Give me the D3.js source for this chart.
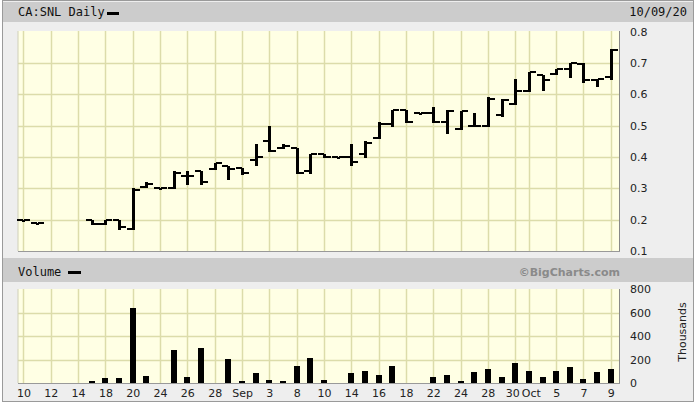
<!DOCTYPE html>
<html>
<head>
<meta charset="utf-8">
<script src="https://cdn.jsdelivr.net/npm/d3@7"></script>
<style>
html,body{margin:0;padding:0;background:#ffffff;}
svg{display:block;}
</style>
</head>
<body>
<svg id="chart" width="700" height="409"></svg>
<script>
// ---- data ----
const dates = ["Aug 10","Aug 11","Aug 12","Aug 13","Aug 14","Aug 17","Aug 18","Aug 19","Aug 20","Aug 21",
  "Aug 24","Aug 25","Aug 26","Aug 27","Aug 28","Aug 31","Sep 1","Sep 2","Sep 3","Sep 4",
  "Sep 8","Sep 9","Sep 10","Sep 11","Sep 14","Sep 15","Sep 16","Sep 17","Sep 18","Sep 21",
  "Sep 22","Sep 23","Sep 24","Sep 25","Sep 28","Sep 29","Sep 30","Oct 1","Oct 2","Oct 5",
  "Oct 6","Oct 7","Oct 8","Oct 9"];
const openP  = [0.20,0.19,null,null,null,0.20,0.185,0.20,0.17,0.305,
  0.30,0.30,0.34,0.355,0.36,0.37,0.365,0.39,0.45,0.43,
  0.43,0.355,0.41,0.40,0.40,0.41,0.46,0.505,0.55,0.54,
  0.54,0.51,0.49,0.50,0.50,0.535,0.57,0.61,0.66,0.665,
  0.68,0.695,0.645,0.655];
const highP  = [0.20,0.19,null,null,null,0.20,0.20,0.20,0.30,0.32,
  0.30,0.355,0.355,0.355,0.38,0.37,0.365,0.44,0.50,0.44,
  0.43,0.41,0.41,0.40,0.44,0.45,0.51,0.55,0.55,0.54,
  0.56,0.55,0.545,0.54,0.59,0.585,0.65,0.67,0.66,0.68,
  0.70,0.70,0.65,0.745];
const lowP   = [0.20,0.19,null,null,null,0.185,0.185,0.17,0.17,0.305,
  0.30,0.30,0.315,0.315,0.36,0.33,0.345,0.375,0.42,0.43,
  0.35,0.35,0.40,0.40,0.375,0.40,0.46,0.50,0.51,0.54,
  0.51,0.475,0.49,0.50,0.50,0.53,0.57,0.61,0.615,0.665,
  0.655,0.64,0.625,0.65];
const closeP = [0.20,0.19,null,null,null,0.185,0.20,0.175,0.295,0.315,
  0.30,0.35,0.34,0.32,0.38,0.36,0.35,0.40,0.42,0.435,
  0.35,0.41,0.40,0.40,0.385,0.445,0.505,0.55,0.51,0.54,
  0.51,0.545,0.545,0.50,0.585,0.58,0.61,0.67,0.645,0.68,
  0.70,0.645,0.65,0.74];
const volume = [0,0,0,0,0,15,43,43,637,60,
  0,278,51,300,0,206,15,83,23,13,
  146,217,23,0,83,106,72,146,0,0,
  51,72,15,94,123,51,166,106,51,106,
  134,32,94,115];
const xTickIdx    = [0,2,4,6,8,10,12,14,16,18,20,22,24,26,28,30,32,34,36,37,39,41,43];
const xTickLabels = ["10","12","14","18","20","24","26","28","Sep","3","8","10","14","16","18","22","24","28","30","Oct","5","7","9"];
const priceTicks  = [0.1,0.2,0.3,0.4,0.5,0.6,0.7,0.8];
const volTicks    = [0,200,400,600,800];
const titleText = "CA:SNL Daily";
const dateText = "10/09/20";

// ---- drawing ----
const svg = d3.select("#chart");
const L = 18, R = 619;
const x = d3.scaleLinear().domain([-0.4, 43.6]).range([L, R]);
const yP = d3.scaleLinear().domain([0.1, 0.8]).range([251, 31.5]);
const yV = d3.scaleLinear().domain([0, 800]).range([383, 289]);

const mono = "'DejaVu Sans Mono', monospace";
const sans = "'DejaVu Sans', Verdana, sans-serif";

// outer frame
svg.append("rect").attr("x",2.5).attr("y",0.5).attr("width",691).attr("height",401)
  .attr("fill","#eeeeee").attr("stroke","#9a9a9a");
// header bars
svg.append("rect").attr("x",3).attr("y",2).attr("width",690).attr("height",20).attr("fill","#cccccc");
svg.append("rect").attr("x",3).attr("y",258).attr("width",690).attr("height",24).attr("fill","#cccccc");

svg.append("text").attr("x",18).attr("y",16).attr("font-family",mono).attr("font-size",12)
  .attr("fill","#111").text(titleText);
svg.append("rect").attr("x",107).attr("y",12).attr("width",12).attr("height",3).attr("fill","#000");
svg.append("text").attr("x",687).attr("y",16).attr("text-anchor","end").attr("font-family",mono)
  .attr("font-size",12).attr("fill","#111").text(dateText);

svg.append("text").attr("x",18).attr("y",276).attr("font-family",mono).attr("font-size",12)
  .attr("fill","#111").text("Volume");
svg.append("rect").attr("x",68).attr("y",271).attr("width",13).attr("height",3).attr("fill","#000");
svg.append("text").attr("x",620).attr("y",276).attr("text-anchor","end").attr("font-family",sans)
  .attr("font-weight","bold").attr("font-size",11).attr("fill","#8a8a8a").text("\u00A9BigCharts.com");

// plot backgrounds
function panel(y0, y1, hTicks, yS){
  const g = svg.append("g");
  g.append("rect").attr("x",L).attr("y",y0).attr("width",R-L).attr("height",y1-y0).attr("fill","#ffffe4");
  g.selectAll("line.v").data(xTickIdx).join("line")
    .attr("x1",d=>Math.round(x(d))+0.5).attr("x2",d=>Math.round(x(d))+0.5)
    .attr("y1",y0).attr("y2",y1).attr("stroke","#dcdcaa").attr("stroke-width",1.5);
  g.selectAll("line.h").data(hTicks).join("line")
    .attr("x1",L).attr("x2",R).attr("y1",d=>Math.round(yS(d))+0.5).attr("y2",d=>Math.round(yS(d))+0.5)
    .attr("stroke","#dcdcaa").attr("stroke-width",1.5);
  g.append("line").attr("x1",L).attr("x2",L).attr("y1",y0).attr("y2",y1).attr("stroke","#d0d0b8");
  g.append("line").attr("x1",L).attr("x2",R+1).attr("y1",y1+0.5).attr("y2",y1+0.5).attr("stroke","#999");
  g.append("line").attr("x1",R+0.5).attr("x2",R+0.5).attr("y1",y0).attr("y2",y1).attr("stroke","#888");
  return g;
}
panel(31, 251, priceTicks.filter(t=>t>0.1 && t<0.8), yP);
panel(289, 383, volTicks.filter(t=>t>0 && t<800), yV);

// price bars (open left tick, close right tick)
const pData = dates.map((d,i)=>({i, o:openP[i], h:highP[i], l:lowP[i], c:closeP[i]})).filter(d=>d.o!=null);
const pg = svg.append("g").attr("shape-rendering","crispEdges");
pg.selectAll("rect.hl").data(pData).join("rect")
  .attr("x",d=>Math.round(x(d.i))-1).attr("width",3)
  .attr("y",d=>Math.round(yP(d.h))).attr("height",d=>Math.max(2, Math.round(yP(d.l))-Math.round(yP(d.h))+1))
  .attr("fill","#000");
pg.selectAll("rect.o").data(pData).join("rect")
  .attr("x",d=>Math.round(x(d.i))-6).attr("width",6)
  .attr("y",d=>Math.round(yP(d.o))-1).attr("height",2).attr("fill","#000");
pg.selectAll("rect.c").data(pData).join("rect")
  .attr("x",d=>Math.round(x(d.i))+1).attr("width",6)
  .attr("y",d=>Math.round(yP(d.c))-1).attr("height",2).attr("fill","#000");

// volume bars
const vData = volume.map((v,i)=>({i,v})).filter(d=>d.v>0);
svg.append("g").attr("shape-rendering","crispEdges").selectAll("rect").data(vData).join("rect")
  .attr("x",d=>Math.round(x(d.i))-3).attr("width",6)
  .attr("y",d=>yV(d.v)).attr("height",d=>yV(0)-yV(d.v)).attr("fill","#000");

// axes
const ayP = svg.append("g").attr("transform",`translate(${R},0)`)
  .call(d3.axisRight(yP).tickValues(priceTicks).tickFormat(d3.format(".1f")).tickSize(0).tickPadding(11));
const ayV = svg.append("g").attr("transform",`translate(${R},0)`)
  .call(d3.axisRight(yV).tickValues(volTicks).tickFormat(d3.format("d")).tickSize(0).tickPadding(11));
const ax = svg.append("g").attr("transform",`translate(0,383)`)
  .call(d3.axisBottom(x).tickValues(xTickIdx).tickFormat((d,k)=>xTickLabels[k]).tickSize(0).tickPadding(6));
[ayP, ayV, ax].forEach(a=>{
  a.select(".domain").remove();
  a.selectAll("text").attr("font-family",sans).attr("font-size",11).attr("fill","#222");
});
// the "30" and "Oct" labels sit one trading day apart; nudge them apart slightly
ax.selectAll(".tick text").attr("dx",(d,k)=> xTickLabels[k]==="30" ? -3 : (xTickLabels[k]==="Oct" ? 2 : 0));

svg.append("text").attr("transform","translate(686,332) rotate(-90)").attr("text-anchor","middle")
  .attr("font-family",sans).attr("font-size",11).attr("fill","#222").text("Thousands");
</script>
</body>
</html>
